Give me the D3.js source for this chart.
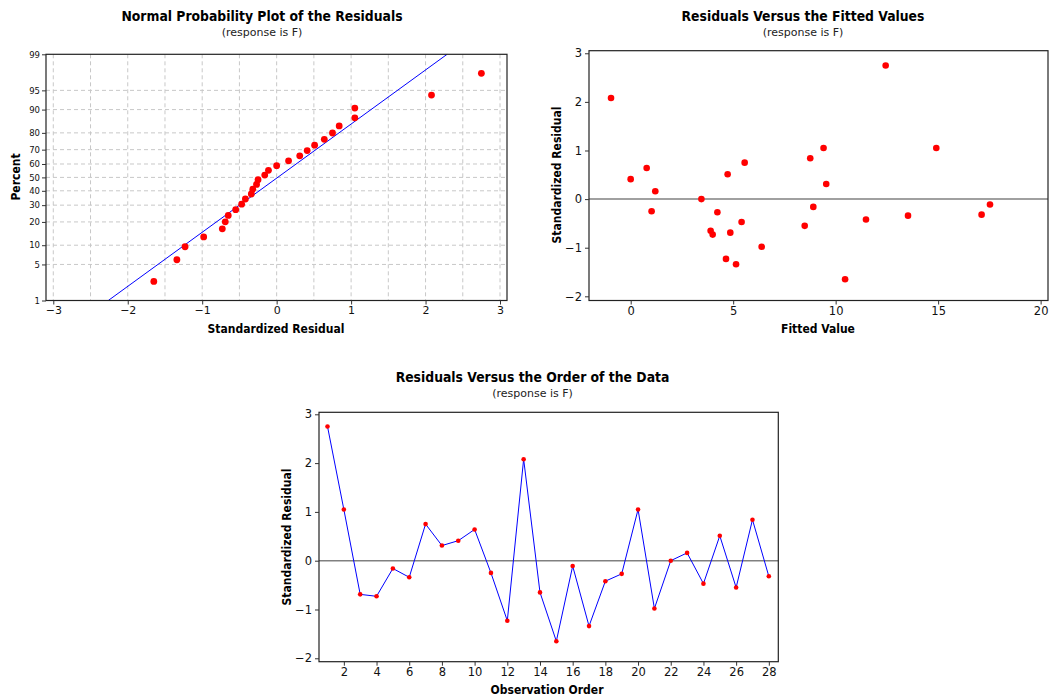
<!DOCTYPE html>
<html>
<head>
<meta charset="utf-8">
<script src="https://cdn.jsdelivr.net/npm/d3@7"></script>
<style>
  html, body { margin: 0; padding: 0; background: #fff; }
  svg { display: block; font-family: "DejaVu Sans Condensed", "DejaVu Sans", sans-serif; }
  .title { font-weight: bold; font-size: 13.8px; }
  .subtitle { font-family: "DejaVu Sans", sans-serif; font-size: 11px; fill: #222; }
  .axlabel { font-weight: bold; font-size: 12px; }
</style>
</head>
<body>
<svg id="chart" width="1049" height="698"></svg>
<script>
// Standardized residuals, in observation order 1..28
const observation = d3.range(1, 29);
const residuals = [2.75, 1.05, -0.69, -0.73, -0.16, -0.34, 0.75, 0.31, 0.41, 0.64,
                   -0.25, -1.23, 2.08, -0.65, -1.65, -0.11, -1.34, -0.42, -0.27, 1.05,
                   -0.98, 0.00, 0.16, -0.47, 0.51, -0.55, 0.84, -0.32];
// Fitted values, same order
const fitted = [12.44, 14.91, 4.86, 4.00, 8.91, 13.53, 5.56, 9.54, 0.00, 0.78,
                1.02, 4.65, -0.96, 3.90, 10.46, 17.53, 5.14, 11.48, 4.23, 9.41,
                6.39, 3.45, 1.20, 5.41, 4.73, 8.49, 8.76, 17.12];

// Tick labels
const percentTicks = [1, 5, 10, 20, 30, 40, 50, 60, 70, 80, 90, 95, 99];
const npXTicks = [-3, -2, -1, 0, 1, 2, 3];
const npGridX = [-3, -2.5, -2, -1.5, -1, -0.5, 0, 0.5, 1, 1.5, 2, 2.5, 3];
const residTicks = [-2, -1, 0, 1, 2, 3];
const fittedTicks = [0, 5, 10, 15, 20];
const orderTicks = [2, 4, 6, 8, 10, 12, 14, 16, 18, 20, 22, 24, 26, 28];

const subtitle = "(response is F)";

const svg = d3.select("#chart");

// Inverse standard normal CDF (Acklam's rational approximation)
function qnorm(p) {
  const a = [-3.969683028665376e+01, 2.209460984245205e+02, -2.759285104469687e+02,
             1.383577518672690e+02, -3.066479806614716e+01, 2.506628277459239e+00];
  const b = [-5.447609879822406e+01, 1.615858368580409e+02, -1.556989798598866e+02,
             6.680131188771972e+01, -1.328068155288572e+01];
  const c = [-7.784894002430293e-03, -3.223964580411365e-01, -2.400758277161838e+00,
             -2.549732539343734e+00, 4.374664141464968e+00, 2.938163982698783e+00];
  const d = [7.784695709041462e-03, 3.224671290700398e-01, 2.445134137142996e+00,
             3.754408661907416e+00];
  const pl = 0.02425, ph = 1 - pl;
  let q, r;
  if (p < pl) {
    q = Math.sqrt(-2 * Math.log(p));
    return (((((c[0]*q+c[1])*q+c[2])*q+c[3])*q+c[4])*q+c[5]) /
           ((((d[0]*q+d[1])*q+d[2])*q+d[3])*q+1);
  }
  if (p <= ph) {
    q = p - 0.5; r = q * q;
    return (((((a[0]*r+a[1])*r+a[2])*r+a[3])*r+a[4])*r+a[5])*q /
           (((((b[0]*r+b[1])*r+b[2])*r+b[3])*r+b[4])*r+1);
  }
  q = Math.sqrt(-2 * Math.log(1 - p));
  return -(((((c[0]*q+c[1])*q+c[2])*q+c[3])*q+c[4])*q+c[5]) /
          ((((d[0]*q+d[1])*q+d[2])*q+d[3])*q+1);
}

function frame(g, x0, y0, x1, y1) {
  g.append("rect")
    .attr("x", x0).attr("y", y0)
    .attr("width", x1 - x0).attr("height", y1 - y0)
    .attr("fill", "none").attr("stroke", "#222").attr("stroke-width", 1.2);
}

function styleAxis(sel, fontSize) {
  sel.select(".domain").remove();
  sel.selectAll(".tick line").attr("stroke", "#333");
  sel.selectAll(".tick text")
    .attr("fill", "#111")
    .style("font-family", "'DejaVu Sans', sans-serif")
    .style("font-size", fontSize + "px");
}

function titles(cx, ty, text) {
  svg.append("text").attr("class", "title")
    .attr("x", cx).attr("y", ty).attr("text-anchor", "middle").text(text);
  svg.append("text").attr("class", "subtitle")
    .attr("x", cx).attr("y", ty + 15).attr("text-anchor", "middle").text(subtitle);
}

function yLabel(x, cy, text) {
  svg.append("text").attr("class", "axlabel")
    .attr("transform", `translate(${x},${cy}) rotate(-90)`)
    .attr("text-anchor", "middle").text(text);
}

function xLabel(cx, y, text) {
  svg.append("text").attr("class", "axlabel")
    .attr("x", cx).attr("y", y).attr("text-anchor", "middle").text(text);
}

// ---------- Normal probability plot ----------
{
  const L = 46, R = 507, T = 54.3, B = 300.5;
  const x = d3.scaleLinear().domain([-3.098, 3.094]).range([L, R]);
  const zMax = qnorm(0.99);
  const y = d3.scaleLinear().domain([-zMax, zMax]).range([B, T]);
  const yp = p => y(qnorm(p / 100));
  const g = svg.append("g");

  // dashed grid
  g.append("g").selectAll("line").data(npGridX).join("line")
    .attr("x1", d => x(d)).attr("x2", d => x(d))
    .attr("y1", T).attr("y2", B)
    .attr("stroke", "#c8c8c8").attr("stroke-dasharray", "4,3");
  g.append("g").selectAll("line").data(percentTicks.filter(p => p > 1 && p < 99)).join("line")
    .attr("x1", L).attr("x2", R)
    .attr("y1", d => yp(d)).attr("y2", d => yp(d))
    .attr("stroke", "#c8c8c8").attr("stroke-dasharray", "4,3");

  // fitted normal line from the sample mean and standard deviation
  const mu = d3.mean(residuals), sd = d3.deviation(residuals);
  const lineP = [1, 99];
  g.append("line")
    .attr("x1", x(mu + sd * qnorm(lineP[0] / 100))).attr("y1", yp(lineP[0]))
    .attr("x2", x(mu + sd * qnorm(lineP[1] / 100))).attr("y2", yp(lineP[1]))
    .attr("stroke", "#0000ff").attr("stroke-width", 1);

  // points at median-rank plotting positions
  const sorted = residuals.slice().sort(d3.ascending);
  const n = sorted.length;
  g.append("g").selectAll("circle").data(sorted).join("circle")
    .attr("cx", d => x(d))
    .attr("cy", (d, i) => y(qnorm((i + 1 - 0.3) / (n + 0.4))))
    .attr("r", 3.4).attr("fill", "#ff0000");

  frame(g, L, T, R, B);

  const ya = g.append("g").attr("transform", `translate(${L},0)`)
    .call(d3.axisLeft(y).tickValues(percentTicks.map(p => qnorm(p / 100)))
      .tickFormat((d, i) => percentTicks[i]).tickSize(4).tickPadding(2));
  styleAxis(ya, 8.5);
  const xa = g.append("g").attr("transform", `translate(0,${B})`)
    .call(d3.axisBottom(x).tickValues(npXTicks).tickFormat(d3.format("d")).tickSize(4).tickPadding(2));
  styleAxis(xa, 11);

  titles(262, 21, "Normal Probability Plot of the Residuals");
  xLabel(276, 333, "Standardized Residual");
  yLabel(20, 177, "Percent");
}

// ---------- Residuals versus fitted values ----------
{
  const L = 589, R = 1048, T = 50.7, B = 300.5;
  const x = d3.scaleLinear().domain([-2.034, 20.36]).range([L, R]);
  const y = d3.scaleLinear().domain([-2.086, 3.053]).range([B, T]);
  const g = svg.append("g");

  g.append("line").attr("x1", L).attr("x2", R).attr("y1", y(0)).attr("y2", y(0))
    .attr("stroke", "#808080").attr("stroke-width", 1.5);

  g.append("g").selectAll("circle").data(fitted).join("circle")
    .attr("cx", d => x(d)).attr("cy", (d, i) => y(residuals[i]))
    .attr("r", 3.3).attr("fill", "#ff0000");

  frame(g, L, T, R, B);

  const ya = g.append("g").attr("transform", `translate(${L},0)`)
    .call(d3.axisLeft(y).tickValues(residTicks).tickFormat(d3.format("d")).tickSize(4).tickPadding(3));
  styleAxis(ya, 11.5);
  const xa = g.append("g").attr("transform", `translate(0,${B})`)
    .call(d3.axisBottom(x).tickValues(fittedTicks).tickFormat(d3.format("d")).tickSize(4).tickPadding(2));
  styleAxis(xa, 11.5);

  titles(803, 21, "Residuals Versus the Fitted Values");
  xLabel(818, 333, "Fitted Value");
  yLabel(561, 175, "Standardized Residual");
}

// ---------- Residuals versus observation order ----------
{
  const L = 319, R = 778.3, T = 412.3, B = 661.7;
  const x = d3.scaleLinear().domain([0.48, 28.58]).range([L, R]);
  const y = d3.scaleLinear().domain([-2.07, 3.041]).range([B, T]);
  const g = svg.append("g");

  g.append("line").attr("x1", L).attr("x2", R).attr("y1", y(0)).attr("y2", y(0))
    .attr("stroke", "#808080").attr("stroke-width", 1.5);

  g.append("path").datum(residuals)
    .attr("d", d3.line().x((d, i) => x(observation[i])).y(d => y(d)))
    .attr("fill", "none").attr("stroke", "#0000ff").attr("stroke-width", 1);

  g.append("g").selectAll("circle").data(residuals).join("circle")
    .attr("cx", (d, i) => x(observation[i])).attr("cy", d => y(d))
    .attr("r", 2.3).attr("fill", "#ff0000");

  frame(g, L, T, R, B);

  const ya = g.append("g").attr("transform", `translate(${L},0)`)
    .call(d3.axisLeft(y).tickValues(residTicks).tickFormat(d3.format("d")).tickSize(4).tickPadding(3));
  styleAxis(ya, 11.5);
  const xa = g.append("g").attr("transform", `translate(0,${B})`)
    .call(d3.axisBottom(x).tickValues(orderTicks).tickFormat(d3.format("d")).tickSize(4).tickPadding(2));
  styleAxis(xa, 11.5);

  titles(532.5, 382, "Residuals Versus the Order of the Data");
  xLabel(547, 694, "Observation Order");
  yLabel(291, 537, "Standardized Residual");
}
</script>
</body>
</html>
